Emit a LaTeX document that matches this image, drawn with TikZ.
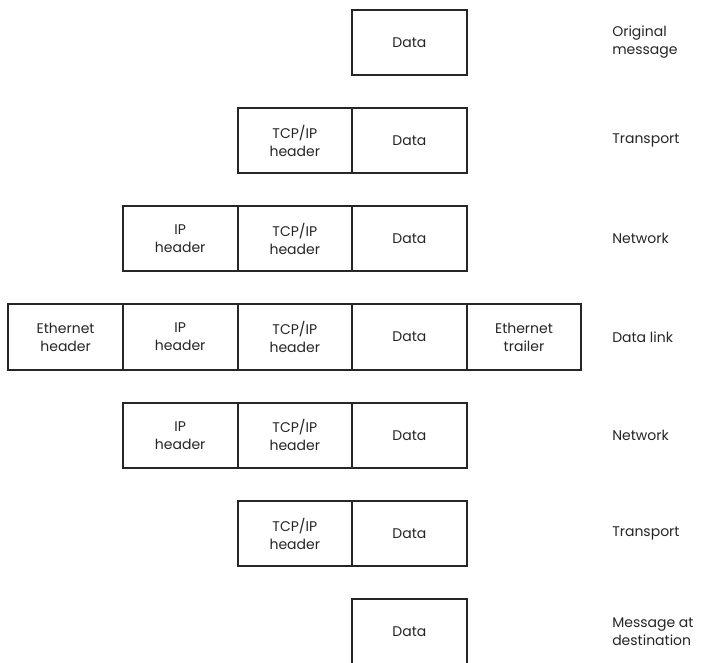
\documentclass[tikz,border=0pt]{standalone}
\usepackage{fontspec}
\setmainfont{Poppins}
\begin{document}
\begin{tikzpicture}[x=0.75pt,y=-0.75pt,
  cell/.style={draw=black!85,line width=1.5pt,rectangle,
    minimum width=85.95pt,minimum height=49.1pt,inner sep=0pt,
    align=center,font=\fontsize{10.5}{13.5}\selectfont,text=black!85},
  layer/.style={anchor=west,align=left,inner sep=0pt,
    font=\fontsize{10.5}{13.5}\selectfont,text=black!85}]
\useasboundingbox[fill=white] (0,0) rectangle (720,662);

% column centres
\def\ca{65.6}\def\cb{180.2}\def\cc{294.8}\def\cd{409.4}\def\ce{524.0}
\def\lx{612}

% row 1: original message
\node[cell] (d1) at (\cd,42.25) {Data};
\node[layer] (l1) at (\lx,42.25) {Original\\message};

% row 2: transport
\node[cell] (t2) at (\cc,140.5) {TCP/IP\\header};
\node[cell] (d2) at (\cd,140.5) {Data};
\node[layer] (l2) at (\lx,140.5) {Transport};

% row 3: network
\node[cell] (i3) at (\cb,238.75) {IP\\header};
\node[cell] (t3) at (\cc,238.75) {TCP/IP\\header};
\node[cell] (d3) at (\cd,238.75) {Data};
\node[layer] (l3) at (\lx,238.75) {Network};

% row 4: data link
\node[cell] (e4) at (\ca,337) {Ethernet\\header};
\node[cell] (i4) at (\cb,337) {IP\\header};
\node[cell] (t4) at (\cc,337) {TCP/IP\\header};
\node[cell] (d4) at (\cd,337) {Data};
\node[cell] (f4) at (\ce,337) {Ethernet\\trailer};
\node[layer] (l4) at (\lx,337) {Data link};

% row 5: network
\node[cell] (i5) at (\cb,435.25) {IP\\header};
\node[cell] (t5) at (\cc,435.25) {TCP/IP\\header};
\node[cell] (d5) at (\cd,435.25) {Data};
\node[layer] (l5) at (\lx,435.25) {Network};

% row 6: transport
\node[cell] (t6) at (\cc,533.5) {TCP/IP\\header};
\node[cell] (d6) at (\cd,533.5) {Data};
\node[layer] (l6) at (\lx,533.5) {Transport};

% row 7: message at destination
\node[cell] (d7) at (\cd,631.75) {Data};
\node[layer] (l7) at (\lx,631.75) {Message at\\destination};
\end{tikzpicture}
\end{document}
